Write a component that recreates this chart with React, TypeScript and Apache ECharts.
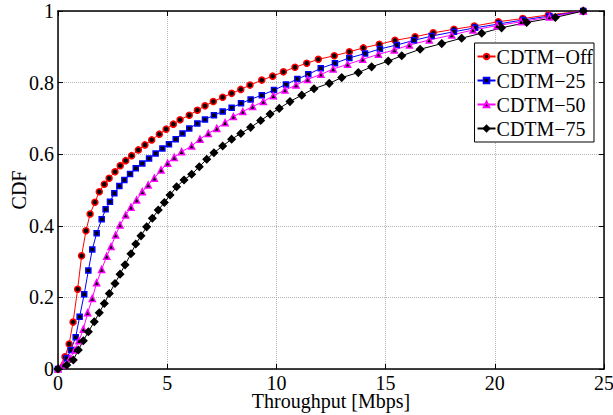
import React, { useEffect, useRef } from "react";
import * as echarts from "echarts";

const seriesNames = ["CDTM−Off", "CDTM−25", "CDTM−50", "CDTM−75"];
const xTickStep = 5;
const yTickStep = 0.2;

const cdtmOff: number[][] = [
  [0, 0], [0.32, 0.034], [0.51, 0.07], [0.69, 0.131], [0.9, 0.223], [1.08, 0.316], [1.28, 0.386],
  [1.47, 0.433], [1.69, 0.466], [1.89, 0.495], [2.12, 0.516], [2.34, 0.533], [2.61, 0.551],
  [2.85, 0.568], [3.1, 0.582], [3.37, 0.596], [3.68, 0.612], [3.98, 0.626], [4.29, 0.64],
  [4.64, 0.656], [4.95, 0.67], [5.28, 0.684], [5.59, 0.696], [6.01, 0.709], [6.38, 0.723],
  [6.73, 0.735], [7.11, 0.747], [7.54, 0.759], [7.95, 0.77], [8.37, 0.781], [8.79, 0.793],
  [9.33, 0.807], [9.83, 0.818], [10.32, 0.83], [10.85, 0.843], [11.39, 0.854], [11.92, 0.865],
  [12.65, 0.875], [13.34, 0.886], [13.98, 0.897], [14.71, 0.907], [15.43, 0.918], [16.35, 0.928],
  [17.18, 0.939], [18.13, 0.949], [19.06, 0.958], [20.16, 0.97], [21.28, 0.979], [22.45, 0.989],
  [24.05, 1.0],
];

const cdtm25: number[][] = [
  [0, 0], [0.4, 0.03], [0.59, 0.053], [0.81, 0.089], [0.99, 0.146], [1.2, 0.209], [1.39, 0.275],
  [1.57, 0.334], [1.77, 0.379], [2.0, 0.418], [2.18, 0.446], [2.38, 0.467], [2.58, 0.491],
  [2.81, 0.511], [3.04, 0.528], [3.3, 0.545], [3.56, 0.561], [3.86, 0.574], [4.17, 0.588],
  [4.47, 0.602], [4.78, 0.616], [5.08, 0.628], [5.39, 0.642], [5.7, 0.658], [6.01, 0.672],
  [6.38, 0.686], [6.73, 0.697], [7.14, 0.709], [7.54, 0.719], [7.95, 0.73], [8.38, 0.742],
  [8.82, 0.753], [9.33, 0.765], [9.89, 0.779], [10.44, 0.795], [10.96, 0.81], [11.46, 0.823],
  [12.03, 0.84], [12.68, 0.854], [13.34, 0.869], [14.06, 0.881], [14.74, 0.894], [15.51, 0.905],
  [16.3, 0.918], [17.11, 0.93], [18.13, 0.942], [19.1, 0.953], [20.2, 0.964], [21.3, 0.975],
  [22.5, 0.986], [24.05, 1.0],
];

const cdtm50: number[][] = [
  [0, 0], [0.24, 0.011], [0.55, 0.03], [0.78, 0.053], [0.96, 0.079], [1.16, 0.111], [1.36, 0.157],
  [1.57, 0.197], [1.77, 0.241], [2.0, 0.278], [2.23, 0.315], [2.43, 0.342], [2.64, 0.374],
  [2.84, 0.402], [3.1, 0.43], [3.34, 0.452], [3.6, 0.472], [3.86, 0.495], [4.13, 0.514],
  [4.41, 0.533], [4.72, 0.556], [5.02, 0.575], [5.32, 0.591], [5.66, 0.607], [6.12, 0.623],
  [6.5, 0.642], [6.88, 0.658], [7.27, 0.672], [7.65, 0.688], [8.03, 0.705], [8.46, 0.719],
  [8.91, 0.733], [9.4, 0.747], [9.86, 0.763], [10.39, 0.779], [10.9, 0.793], [11.43, 0.809],
  [12.04, 0.823], [12.6, 0.838], [13.26, 0.851], [13.95, 0.865], [14.67, 0.879], [15.4, 0.891],
  [16.09, 0.905], [17.0, 0.919], [18.03, 0.933], [19.0, 0.947], [20.1, 0.959], [21.2, 0.97],
  [22.5, 0.983], [24.05, 1.0],
];

const cdtm75: number[][] = [
  [0, 0], [0.4, 0.011], [0.7, 0.025], [0.93, 0.053], [1.16, 0.079], [1.39, 0.104], [1.66, 0.132],
  [1.89, 0.157], [2.12, 0.183], [2.35, 0.211], [2.61, 0.239], [2.84, 0.265], [3.07, 0.291],
  [3.34, 0.322], [3.56, 0.349], [3.8, 0.372], [4.06, 0.397], [4.32, 0.421], [4.59, 0.444],
  [4.87, 0.465], [5.13, 0.486], [5.43, 0.509], [5.77, 0.528], [6.12, 0.544], [6.47, 0.565],
  [6.81, 0.586], [7.14, 0.604], [7.54, 0.623], [7.95, 0.642], [8.37, 0.658], [8.82, 0.675],
  [9.28, 0.694], [9.71, 0.712], [10.13, 0.728], [10.62, 0.747], [11.16, 0.765], [11.72, 0.783],
  [12.42, 0.798], [12.99, 0.814], [13.75, 0.828], [14.36, 0.844], [15.12, 0.86], [15.74, 0.875],
  [16.58, 0.893], [17.57, 0.909], [18.48, 0.924], [19.4, 0.938], [20.31, 0.953], [21.46, 0.968],
  [22.77, 0.982], [24.05, 1.0],
];

const FONT = "Liberation Serif";

export default function App() {
  const ref = useRef<HTMLDivElement>(null);
  useEffect(() => {
    document.body.style.margin = "0";
    const chart = echarts.init(ref.current!, null, { renderer: "svg" });
    const axisLine = { onZero: false, lineStyle: { color: "#000", width: 1.5 } };
    const tick = { inside: true, length: 5, lineStyle: { color: "#000", width: 1 } };
    const split = { show: true, lineStyle: { type: "dotted", color: "#b4b4b4", width: 1 } };
    const mk = (name: string, data: number[][], color: string, symbol: string, size: number) => ({
      type: "line",
      name,
      data,
      symbol,
      symbolSize: size,
      lineStyle: { color, width: 1 },
      itemStyle: { color: "#000", borderColor: color, borderWidth: 1.5 },
      emphasis: { disabled: true },
    });
    chart.setOption({
      animation: false,
      backgroundColor: "#fff",
      grid: { left: 58, right: 9, top: 11, bottom: 46, containLabel: false, outerBoundsMode: "none" },
      legend: {
        orient: "vertical",
        right: 19,
        top: 43,
        backgroundColor: "#fff",
        borderColor: "#000",
        borderWidth: 1,
        borderRadius: 0,
        padding: [3, 1, 3, 2],
        itemGap: 3,
        itemWidth: 18,
        itemHeight: 7,
        textStyle: { fontFamily: FONT, fontSize: 20, color: "#000", lineHeight: 21, padding: [0, 0, 0, -4] },
        data: seriesNames,
      },
      xAxis: [
        {
          type: "value",
          min: 0,
          max: 25,
          interval: xTickStep,
          position: "bottom",
          axisLine,
          axisTick: tick,
          axisLabel: { color: "#000", fontFamily: FONT, fontSize: 20, margin: 4 },
          splitLine: split,
          name: "Throughput [Mbps]",
          nameLocation: "middle",
          nameGap: 22,
          nameMoveOverlap: false,
          nameTextStyle: { color: "#000", fontFamily: FONT, fontSize: 20 },
        },
        {
          type: "value",
          min: 0,
          max: 25,
          interval: xTickStep,
          position: "top",
          axisLine,
          axisTick: tick,
          axisLabel: { show: false },
          splitLine: { show: false },
        },
      ],
      yAxis: [
        {
          type: "value",
          min: 0,
          max: 1,
          interval: yTickStep,
          position: "left",
          axisLine,
          axisTick: tick,
          axisLabel: { color: "#000", fontFamily: FONT, fontSize: 20, margin: 4 },
          splitLine: split,
          name: "CDF",
          nameLocation: "middle",
          nameGap: 29,
          nameMoveOverlap: false,
          nameTextStyle: { color: "#000", fontFamily: FONT, fontSize: 20 },
        },
        {
          type: "value",
          min: 0,
          max: 1,
          interval: yTickStep,
          position: "right",
          axisLine,
          axisTick: tick,
          axisLabel: { show: false },
          splitLine: { show: false },
        },
      ],
      series: [
        mk(seriesNames[0], cdtmOff, "#ff0000", "circle", 6),
        mk(seriesNames[1], cdtm25, "#0000ff", "rect", 5),
        mk(seriesNames[2], cdtm50, "#ff00ff", "triangle", 6),
        mk(seriesNames[3], cdtm75, "#000000", "diamond", 7),
      ],
    });
    return () => chart.dispose();
  }, []);
  return <div ref={ref} style={{ width: 613, height: 415 }} />;
}
